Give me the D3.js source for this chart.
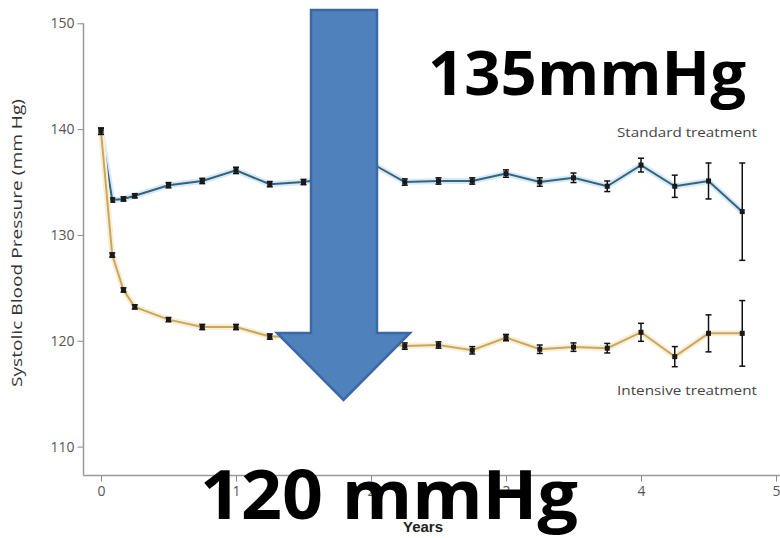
<!DOCTYPE html>
<html>
  <head>
    <meta charset="utf-8" />
    <script src="https://d3js.org/d3.v7.min.js"></script>
    <style>
      body { margin: 0; background: #fff; }
      .tick text { font-family: "Open Sans", sans-serif; font-size: 14px; fill: #555; }
      .std { stroke: #35627f; fill: none; stroke-width: 2; }
      .int { stroke: #c9a85c; fill: none; stroke-width: 2; }
      .err { stroke: #111; stroke-width: 1.5; }
      .big { font-family: "Open Sans", sans-serif; font-weight: bold; fill: #000; }
    </style>
  </head>
  <body>
    <div id="chart"></div>
    <script>
      var w = 780, h = 538;

      var years = [0, 1/12, 2/12, 0.25, 0.5, 0.75, 1, 1.25, 1.5, 1.75, 2, 2.25, 2.5, 2.75, 3, 3.25, 3.5, 3.75, 4, 4.25, 4.5, 4.75];
      var standard = [139.8, 133.3, 133.4, 133.7, 134.7, 135.1, 136.1, 134.8, 135.0, 135.5, 136.8, 135.0, 135.1, 135.1, 135.8, 135.0, 135.4, 134.6, 136.6, 134.6, 135.1, 132.2];
      var standardErr = [0.3, 0.2, 0.2, 0.2, 0.25, 0.25, 0.3, 0.25, 0.25, 0.3, 0.3, 0.3, 0.3, 0.3, 0.35, 0.4, 0.45, 0.5, 0.65, 1.05, 1.7, 4.6];
      var intensive = [139.8, 128.1, 124.8, 123.2, 122.0, 121.3, 121.3, 120.4, 120.4, 120.2, 119.9, 119.5, 119.6, 119.1, 120.3, 119.2, 119.4, 119.3, 120.8, 118.5, 120.7, 120.7];
      var intensiveErr = [0.3, 0.2, 0.2, 0.2, 0.2, 0.25, 0.25, 0.25, 0.25, 0.3, 0.3, 0.3, 0.3, 0.35, 0.3, 0.4, 0.4, 0.45, 0.85, 0.95, 1.75, 3.1];
      var yTicks = [110, 120, 130, 140, 150];
      var xTicks = [0, 1, 2, 3, 4, 5];

      var svg = d3.select("#chart").append("svg")
        .attr("width", w)
        .attr("height", h);

      var x = d3.scaleLinear().domain([0, 5]).range([101, 776]);
      var y = d3.scaleLinear().domain([110, 150]).range([446.6, 23.3]);
      var axisX = 83.5, axisY = 475.5;

      // y axis
      var gy = svg.append("g")
        .attr("transform", "translate(" + axisX + ",0)")
        .call(d3.axisLeft(y).tickValues(yTicks).tickSize(6).tickPadding(3));
      gy.select(".domain").remove();
      gy.selectAll(".tick line").attr("stroke", "#888");
      svg.append("line")
        .attr("x1", axisX).attr("x2", axisX)
        .attr("y1", y(150)).attr("y2", axisY)
        .attr("stroke", "#999").attr("stroke-width", 1.5);

      // x axis
      var gx = svg.append("g")
        .attr("transform", "translate(0," + axisY + ")")
        .call(d3.axisBottom(x).tickValues(xTicks).tickFormat(d3.format("d")).tickSize(6).tickPadding(5));
      gx.select(".domain").remove();
      gx.selectAll(".tick line").attr("stroke", "#888");
      svg.append("line")
        .attr("x1", axisX).attr("x2", w)
        .attr("y1", axisY).attr("y2", axisY)
        .attr("stroke", "#999").attr("stroke-width", 1.5);

      svg.append("text")
        .attr("transform", "translate(22,243) rotate(-90)")
        .attr("text-anchor", "middle")
        .attr("textLength", 288)
        .attr("lengthAdjust", "spacingAndGlyphs")
        .style("font-family", "'Open Sans', sans-serif")
        .style("font-size", "15px")
        .style("fill", "#333")
        .text("Systolic Blood Pressure (mm Hg)");

      svg.append("text")
        .attr("x", 423).attr("y", 532)
        .attr("text-anchor", "middle")
        .style("font-family", "'Liberation Sans Narrow', sans-serif")
        .style("font-size", "15px")
        .style("font-weight", "bold")
        .style("fill", "#222")
        .text("Years");

      var series = [
        { cls: "std", halo: "#d6eaf6", vals: standard, err: standardErr },
        { cls: "int", halo: "#f9efd8", vals: intensive, err: intensiveErr }
      ];

      var line = d3.line()
        .x(function(d) { return x(d[0]); })
        .y(function(d) { return y(d[1]); });

      series.forEach(function(s) {
        var pts = years.map(function(t, i) { return [t, s.vals[i], s.err[i]]; });
        svg.append("path").datum(pts)
          .attr("d", line)
          .attr("fill", "none")
          .attr("stroke", s.halo)
          .attr("stroke-width", 6);
        svg.append("path").datum(pts)
          .attr("class", s.cls)
          .attr("d", line);

        var g = svg.append("g");
        g.selectAll("line.bar").data(pts).enter().append("line")
          .attr("class", "err")
          .attr("x1", function(d) { return x(d[0]); })
          .attr("x2", function(d) { return x(d[0]); })
          .attr("y1", function(d) { return y(d[1] - d[2]); })
          .attr("y2", function(d) { return y(d[1] + d[2]); });
        [-1, 1].forEach(function(sign) {
          g.selectAll("line.cap" + sign).data(pts).enter().append("line")
            .attr("class", "err")
            .attr("x1", function(d) { return x(d[0]) - 3; })
            .attr("x2", function(d) { return x(d[0]) + 3; })
            .attr("y1", function(d) { return y(d[1] + sign * d[2]); })
            .attr("y2", function(d) { return y(d[1] + sign * d[2]); });
        });
        g.selectAll("rect").data(pts).enter().append("rect")
          .attr("x", function(d) { return x(d[0]) - 2.5; })
          .attr("y", function(d) { return y(d[1]) - 2.5; })
          .attr("width", 5).attr("height", 5)
          .attr("fill", "#1a1a1a");
      });

      svg.append("text")
        .attr("x", 757).attr("y", 137)
        .attr("text-anchor", "end")
        .attr("textLength", 140)
        .attr("lengthAdjust", "spacingAndGlyphs")
        .style("font-family", "'Open Sans', sans-serif")
        .style("font-size", "13px")
        .style("fill", "#444")
        .text("Standard treatment");
      svg.append("text")
        .attr("x", 757).attr("y", 395)
        .attr("text-anchor", "end")
        .attr("textLength", 140)
        .attr("lengthAdjust", "spacingAndGlyphs")
        .style("font-family", "'Open Sans', sans-serif")
        .style("font-size", "13px")
        .style("fill", "#444")
        .text("Intensive treatment");

      // big arrow
      var arrow = [[311, 10], [377, 10], [377, 333], [410, 333], [343.5, 400], [277, 333], [311, 333]];
      svg.append("path")
        .attr("d", d3.line()(arrow) + "Z")
        .attr("fill", "#4f81bd")
        .attr("stroke", "#3a6aa3")
        .attr("stroke-width", 2.5);

      svg.append("text")
        .attr("class", "big")
        .attr("x", 428).attr("y", 95)
        .attr("textLength", 318)
        .attr("lengthAdjust", "spacingAndGlyphs")
        .style("font-size", "60px")
        .text("135mmHg");

      svg.append("text")
        .attr("class", "big")
        .attr("x", 200).attr("y", 519)
        .attr("textLength", 378)
        .attr("lengthAdjust", "spacingAndGlyphs")
        .style("font-size", "68px")
        .text("120 mmHg");
    </script>
  </body>
</html>
